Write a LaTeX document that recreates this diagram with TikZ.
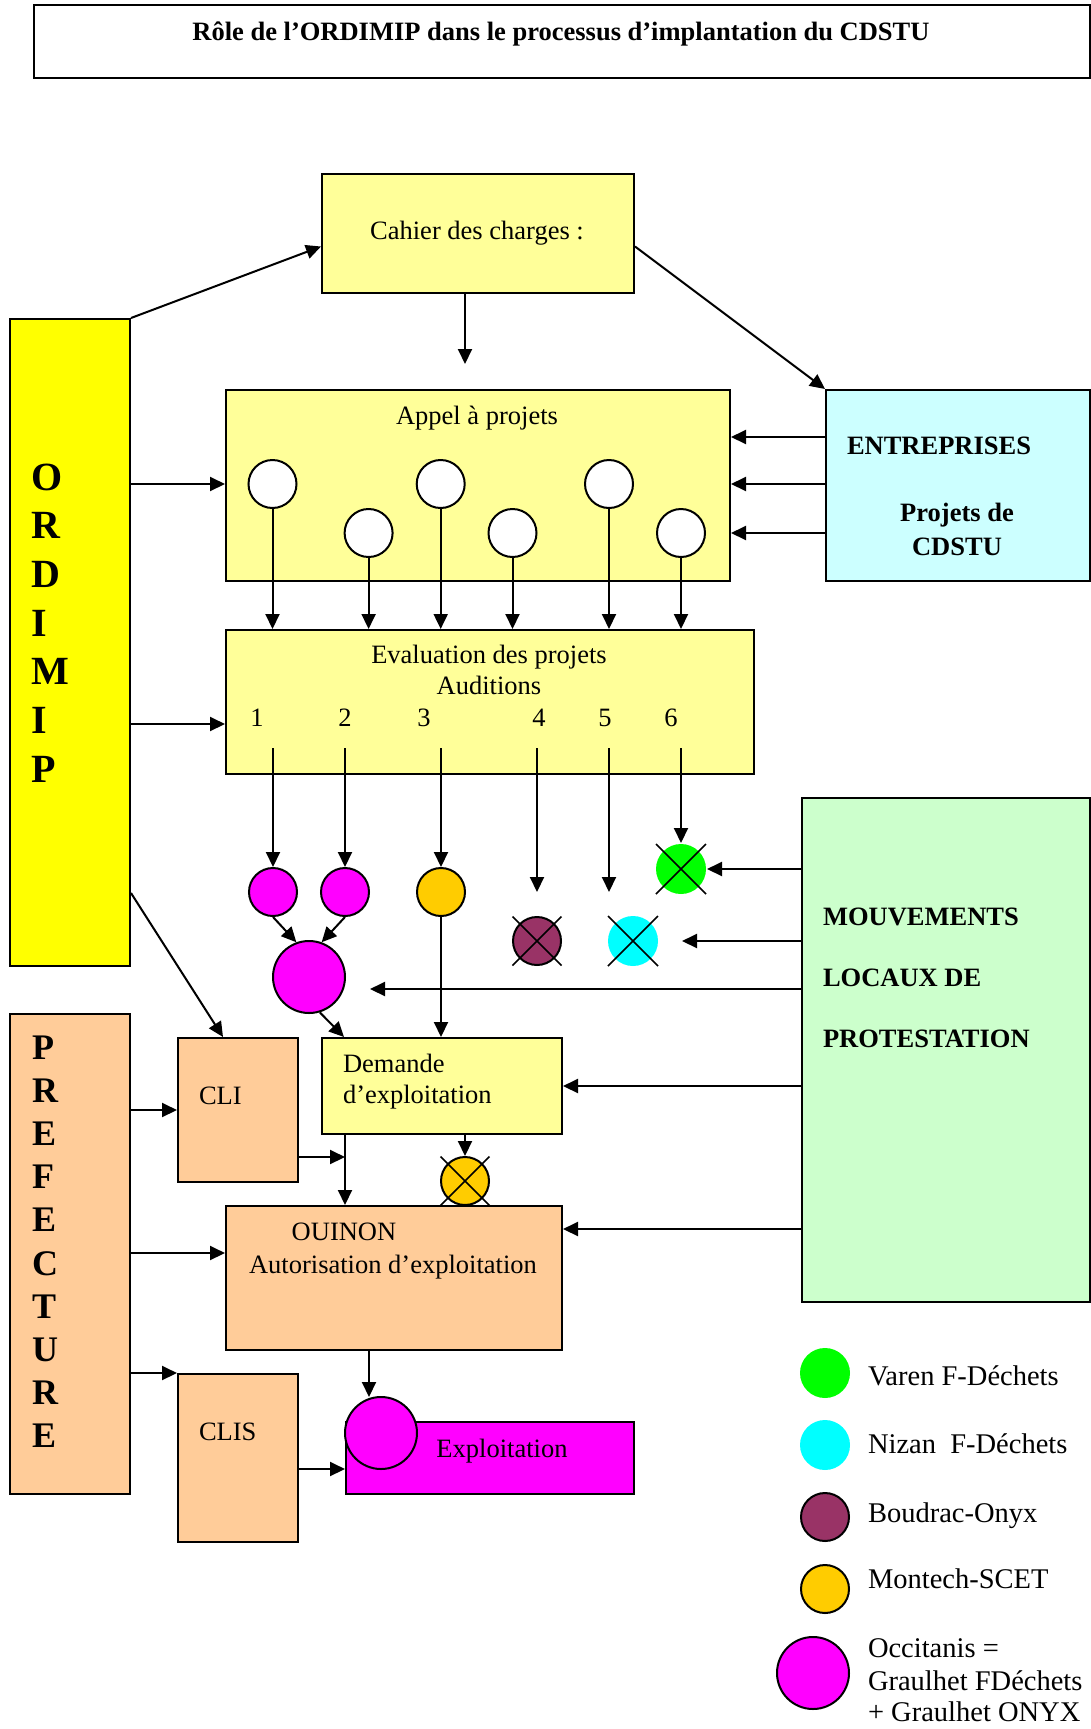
\documentclass[tikz,border=0pt]{standalone}
\usepackage{fontspec}
\setmainfont{Liberation Serif}
\usetikzlibrary{arrows.meta,calc}
\definecolor{lightyel}{HTML}{FFFF99}
\definecolor{yel}{HTML}{FFFF00}
\definecolor{lcyan}{HTML}{CCFFFF}
\definecolor{lgreen}{HTML}{CCFFCC}
\definecolor{peach}{HTML}{FFCC99}
\definecolor{mag}{HTML}{FF00FF}
\definecolor{orng}{HTML}{FFCC00}
\definecolor{plum}{HTML}{993366}
\definecolor{grn}{HTML}{00FF00}
\definecolor{cyn}{HTML}{00FFFF}
\begin{document}
\begin{tikzpicture}[x=1pt,y=-1pt,line width=2pt,
  >={Triangle[length=15pt,width=14pt]},
  box/.style={draw,line width=2pt,inner sep=0pt,anchor=north west},
  txt/.style={inner sep=0pt,anchor=base,font=\fontsize{26.5}{31}\selectfont},
  txtw/.style={txt,anchor=base west},
  btxt/.style={inner sep=0pt,anchor=base,font=\fontsize{26.5}{31}\selectfont\bfseries},
  btxtw/.style={btxt,anchor=base west},
  bigl/.style={inner sep=0pt,anchor=base west,font=\fontsize{40}{48}\selectfont\bfseries},
  midl/.style={inner sep=0pt,anchor=base west,font=\fontsize{36}{43}\selectfont\bfseries},
  legt/.style={inner sep=0pt,anchor=base west,font=\fontsize{28.5}{33}\selectfont},
  circ/.style={circle,draw,line width=2pt,minimum size=48pt,inner sep=0pt},
  dot/.style={circle,minimum size=50pt,inner sep=0pt},
  xline/.style={line width=1.6pt}]
\useasboundingbox (0,0) rectangle (1091,1729);

% boxes
\node[box,minimum width=1056pt,minimum height=73pt] (title) at (33,4) {};
\node[box,fill=lightyel,minimum width=312pt,minimum height=119pt] (cahier) at (321,173) {};
\node[box,fill=lightyel,minimum width=504pt,minimum height=191pt] (appel) at (225,389) {};
\node[box,fill=lcyan,minimum width=264pt,minimum height=191pt] (entr) at (825,389) {};
\node[box,fill=yel,minimum width=120pt,minimum height=647pt] (ordimip) at (9,318) {};
\node[box,fill=lightyel,minimum width=528pt,minimum height=144pt] (eval) at (225,629) {};
\node[box,fill=lgreen,minimum width=288pt,minimum height=504pt] (mouv) at (801,797) {};
\node[box,fill=peach,minimum width=120pt,minimum height=480pt] (pref) at (9,1013) {};
\node[box,fill=peach,minimum width=120pt,minimum height=144pt] (cli) at (177,1037) {};
\node[box,fill=lightyel,minimum width=240pt,minimum height=96pt] (demande) at (321,1037) {};
\node[box,fill=peach,minimum width=336pt,minimum height=144pt] (ouinon) at (225,1205) {};
\node[box,fill=peach,minimum width=120pt,minimum height=168pt] (clis) at (177,1373) {};
\node[box,fill=mag,minimum width=288pt,minimum height=72pt] (exploit) at (345,1421) {};

% texts
\node[btxt] (ttitle) at (561,40) {Rôle de l’ORDIMIP dans le processus d’implantation du CDSTU};
\node[txt] (tcahier) at (477,239) {Cahier des charges :};
\node[txt] (tappel) at (477,424) {Appel à projets};
\node[btxtw] (tentr) at (846,454) {ENTREPRISES};
\node[btxt] (tproj) at (957,521) {Projets de};
\node[btxt] (tcdstu) at (957,555) {CDSTU};
\node[txt] (teval) at (489,663) {Evaluation des projets};
\node[txt] (taud) at (489,694) {Auditions};
\foreach \n/\x in {1/257,2/345,3/424,4/539,5/605,6/671}
  \node[txt] (num\n) at (\x,726) {\n};
\foreach \l [count=\i from 0] in {O,R,D,I,M,I,P}
  \node[bigl] (ord\i) at (30,{490+48.7*\i}) {\l};
\foreach \l [count=\i from 0] in {P,R,E,F,E,C,T,U,R,E}
  \node[midl] (pre\i) at (31,{1059+43.2*\i}) {\l};
\node[btxtw] (tm1) at (822,925) {MOUVEMENTS};
\node[btxtw] (tm2) at (822,986) {LOCAUX DE};
\node[btxtw] (tm3) at (822,1047) {PROTESTATION};
\node[txtw] (tcli) at (198,1104) {CLI};
\node[txtw] (tdem1) at (342,1072) {Demande};
\node[txtw] (tdem2) at (342,1103) {d’exploitation};
\node[txt] (toui) at (344,1240) {OUINON};
\node[txt] (taut) at (393,1273) {Autorisation d’exploitation};
\node[txtw] (tclis) at (198,1440) {CLIS};
\node[txt] (texp) at (502,1457) {Exploitation};

% circles
\node[circ,fill=white] (a1) at (272.5,484) {};
\node[circ,fill=white] (a2) at (368.6,533) {};
\node[circ,fill=white] (a3) at (440.7,484) {};
\node[circ,fill=white] (a4) at (512.5,533) {};
\node[circ,fill=white] (a5) at (609,484) {};
\node[circ,fill=white] (a6) at (681,533) {};
\node[circ,fill=mag] (m1) at (273,892) {};
\node[circ,fill=mag] (m2) at (345,892) {};
\node[circ,fill=orng] (o3) at (441,892) {};
\node[circ,fill=mag,minimum size=72pt] (M) at (309,977) {};
\node[circ,fill=plum] (bx) at (537,941) {};
\node[dot,fill=cyn] (cx) at (633,941) {};
\node[dot,fill=grn] (gx) at (681,869) {};
\node[circ,fill=orng] (ox) at (465,1181) {};
\node[circ,fill=mag,minimum size=72pt] (expc) at (381,1433) {};
\foreach \c/\r in {bx/24.5,cx/25,gx/25,ox/24.5}
  \draw[xline] ($(\c)+(-\r,-\r)$) -- ($(\c)+(\r,\r)$) ($(\c)+(-\r,\r)$) -- ($(\c)+(\r,-\r)$);

% legend
\node[dot,fill=grn] (lg) at (825,1373) {};
\node[dot,fill=cyn] (lc) at (825,1445) {};
\node[circ,fill=plum] (lb) at (825,1517) {};
\node[circ,fill=orng] (lo) at (825,1589) {};
\node[circ,fill=mag,minimum size=72pt] (lm) at (813,1673) {};
\node[legt] (lgt) at (867,1385) {Varen F-Déchets};
\node[legt] (lct) at (867,1453) {Nizan\ \ F-Déchets};
\node[legt] (lbt) at (867,1522) {Boudrac-Onyx};
\node[legt] (lot) at (867,1588) {Montech-SCET};
\node[legt] (lm1) at (867,1657) {Occitanis =};
\node[legt] (lm2) at (867,1690) {Graulhet FDéchets};
\node[legt] (lm3) at (867,1721) {+ Graulhet ONYX};

% coordinates
\coordinate (cdown) at (465,364);
\coordinate (oe) at (0,724);
\coordinate (ye) at (0,437);
\foreach \i/\x in {1/273,2/345,3/441,4/537,5/609,6/681}
  \coordinate (e\i) at (\x,748);
\coordinate (t4) at (537,892);
\coordinate (t5) at (609,892);
\coordinate (tc) at (682,941);
\coordinate (tm) at (370,989);
\coordinate (yo) at (0,1229);
\coordinate (yp) at (0,1253);
\coordinate (vx) at (345,0);
\coordinate (yc) at (0,1157);
\coordinate (tx) at (369,1397);
\coordinate (yx) at (0,1469);

% connectors
\draw[->] (ordimip.north east) -- ($(cahier.west)+(0,13)$);
\draw[->] ($(cahier.east)+(0,13)$) -- (entr.north west);
\draw[->] (cahier.south -| cdown) -- (cdown);
\draw[->] (ordimip.east |- a1) -- (appel.west |- a1);
\draw[->] (ordimip.east |- oe) -- (eval.west |- oe);
\draw[->] ($(ordimip.north east)+(0,575)$) -- ($(cli.north west)+(46,0)$);
\draw[->] (entr.west |- ye) -- (appel.east |- ye);
\draw[->] (entr.west |- a1) -- (appel.east |- a1);
\draw[->] (entr.west |- a2) -- (appel.east |- a2);
\foreach \a in {a1,a2,a3,a4,a5,a6}
  \draw[->] (\a.south) -- (\a.south |- eval.north);
\draw[->] (e1) -- (m1);
\draw[->] (e2) -- (m2);
\draw[->] (e3) -- (o3);
\draw[->] (e4) -- (t4);
\draw[->] (e5) -- (t5);
\draw[->] (e6) -- (gx);
\draw[->] (m1.south) -- (M.110);
\draw[->] (m2.south) -- (M.70);
\draw[->] (M.-73) -- ($(demande.north west)+(23,0)$);
\draw[->] (o3.south) -- (o3.south |- demande.north);
\draw[->] (mouv.west |- gx) -- (gx.east);
\draw[->] (mouv.west |- tc) -- (tc);
\draw[->] (mouv.west |- tm) -- (tm);
\draw[->] (mouv.west |- demande.east) -- (demande.east);
\draw[->] (mouv.west |- yo) -- (ouinon.east |- yo);
\draw[->] (pref.east |- cli.west) -- (cli.west);
\draw[->] (pref.east |- yp) -- (ouinon.west |- yp);
\draw[->] (pref.east |- clis.north west) -- (clis.north west);
\draw[->] (demande.south -| vx) -- (ouinon.north -| vx);
\draw[->] (cli.east |- yc) -- (vx |- yc);
\draw[->] (demande.south -| ox) -- (ox.north);
\draw[->] (ouinon.south -| tx) -- (tx);
\draw[->] (clis.east |- yx) -- (exploit.west |- yx);
\end{tikzpicture}
\end{document}
